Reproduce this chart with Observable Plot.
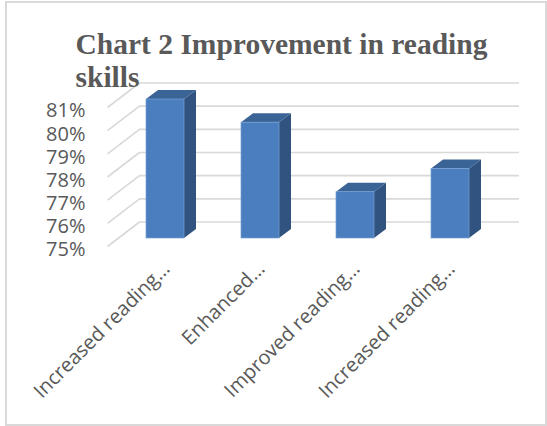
<!DOCTYPE html>
<html>
<head>
<meta charset="utf-8">
<script src="https://cdn.jsdelivr.net/npm/d3@7"></script>
<script src="https://cdn.jsdelivr.net/npm/@observablehq/plot@0.6"></script>
<style>
  html, body { margin: 0; padding: 0; background: #ffffff; }
  #wrap { position: relative; width: 547px; height: 426px; overflow: hidden; }
  #wrap svg { position: absolute; left: 0; top: 0; }
  #border { position: absolute; left: 5px; top: 1px; width: 538px; height: 421px;
            border: 2px solid #d9d9d9; pointer-events: none; }
</style>
</head>
<body>
<div id="wrap"><div id="border"></div></div>
<script>
// ---- data ----
const title = "Chart 2 Improvement in reading\nskills";
const categories = ["Increased reading…", "Enhanced…", "Improved reading…", "Increased reading…"];
const values = [81, 80, 77, 78];
const yTicks = [75, 76, 77, 78, 79, 80, 81];
const yBase = 75;

// ---- layout ----
const W = 547, H = 426;
const mLeft = 117.5, mRight = 49.5, mTop = 99, mBottom = 188;
const xDomain = [-0.5, categories.length - 0.5];
const yDomain = [75, 81];
const pxX = (W - mLeft - mRight) / (xDomain[1] - xDomain[0]);
const pxY = (H - mTop - mBottom) / (yDomain[1] - yDomain[0]);
const half = 0.2;                       // half bar width (x units)
const depthX = 12 / pxX, depthY = 9 / pxY;  // bar depth
const wallBackDx = 21.5, wallBackDy = -16.5; // back wall offset (px)
const wallFrontDx = -10.5, wallFrontDy = 8;  // side-wall front edge offset (px)

const bars = categories.map((c, i) => ({i, c, v: values[i]}));
const sides = bars.flatMap(b => [
  {bar: b.i, x: b.i + half, y1: yBase, y2: b.v},
  {bar: b.i, x: b.i + half + depthX, y1: yBase + depthY, y2: b.v + depthY}
]);
const tops = bars.flatMap(b => [
  {bar: b.i, y: b.v, x1: b.i - half, x2: b.i + half},
  {bar: b.i, y: b.v + depthY, x1: b.i - half + depthX, x2: b.i + half + depthX}
]);

const grid = "#d9d9d9";
const textCol = "#595959";

const chart = Plot.plot({
  width: W, height: H,
  marginLeft: mLeft, marginRight: mRight, marginTop: mTop, marginBottom: mBottom,
  style: {background: "transparent", fontFamily: "'Open Sans', sans-serif", overflow: "visible"},
  x: {type: "linear", domain: xDomain, axis: null},
  y: {type: "linear", domain: yDomain, axis: null},
  marks: [
    // back wall gridlines
    Plot.ruleY(yTicks, {y: d => d, dx: wallBackDx, dy: wallBackDy, stroke: grid, strokeWidth: 1.6}),
    // side wall diagonals
    Plot.link(yTicks, {
      x1: () => xDomain[0] + wallFrontDx / pxX, y1: d => d - wallFrontDy / pxY,
      x2: () => xDomain[0] + wallBackDx / pxX, y2: d => d - wallBackDy / pxY,
      stroke: grid, strokeWidth: 1.6
    }),
    // bar sides
    Plot.areaY(sides, {x: "x", y1: "y1", y2: "y2", z: "bar", fill: "#31537f"}),
    // bar tops
    Plot.areaX(tops, {y: "y", x1: "x1", x2: "x2", z: "bar", fill: "#3a6496"}),
    // bar fronts
    Plot.rect(bars, {x1: d => d.i - half, x2: d => d.i + half, y1: () => yBase, y2: "v",
                     fill: "#4a7ebf", stroke: "#78a0d3", strokeWidth: 0.7}),
    // y tick labels
    Plot.text(yTicks, {y: d => d, text: d => d + "%", frameAnchor: "left", textAnchor: "end",
                       dx: -32.5, dy: 11.5, fontSize: 20, fill: textCol}),
    // category labels
    Plot.text(bars, {x: "i", y: () => yBase, text: "c", rotate: -45, textAnchor: "end",
                     dx: 1, dy: 27, fontSize: 20, fill: textCol}),
    // title
    Plot.text([title], {frameAnchor: "top-left", text: d => d, textAnchor: "start", lineAnchor: "top",
                        dx: 75 - mLeft, dy: 30 - mTop, lineHeight: 1.12,
                        fontFamily: "'Liberation Serif', serif", fontWeight: "bold", fontSize: 29.5, fill: textCol})
  ]
});
document.getElementById("wrap").insertBefore(chart, document.getElementById("border"));
</script>
</body>
</html>
